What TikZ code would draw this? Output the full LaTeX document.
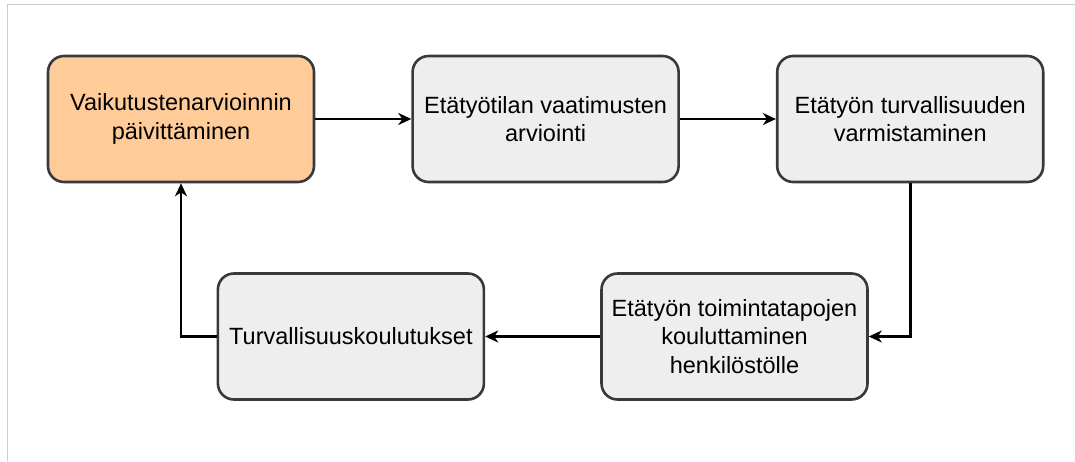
\documentclass[tikz,border=0pt]{standalone}
\usepackage{fontspec}
\setmainfont{Liberation Sans}
\usepackage{tikz}
\usetikzlibrary{arrows.meta}
\usetikzlibrary{positioning}

\definecolor{boxline}{HTML}{36393D}
\definecolor{boxgray}{HTML}{EEEEEE}
\definecolor{boxorange}{HTML}{FFCC99}
\definecolor{frame}{HTML}{CCCCCC}

\begin{document}
\begin{tikzpicture}[x=1pt,y=-1pt,->,>={Stealth[length=13pt,width=12pt,inset=4pt]},
                    line width=2.6pt,node distance=96pt,
                    step box/.style={rectangle,rounded corners=16pt,draw=boxline,
                      line width=2.6pt,fill=boxgray,minimum width=266pt,minimum height=126pt,
                      align=center,font=\fontsize{23.5}{28.5}\selectfont}]

  \useasboundingbox (0,0) rectangle (1075,461);
  \draw[-,frame,line width=1.5pt] (7.5,461) -- (7.5,4.5) -- (1075,4.5);

  \node[step box,fill=boxorange] (vai) at (181,119) {Vaikutustenarvioinnin\\päivittäminen};
  \node[step box] (eva) [right=of vai] {Etätyötilan vaatimusten\\arviointi};
  \node[step box] (etu) [right=of eva] {Etätyön turvallisuuden\\varmistaminen};
  \node[step box] (kou) at (734.5,336.5) {Etätyön toimintatapojen\\kouluttaminen\\henkilöstölle};
  \node[step box] (tur) [left=115pt of kou] {Turvallisuuskoulutukset};

  \draw (vai) -- (eva);
  \draw (eva) -- (etu);
  \draw (etu.south) |- (kou.east);
  \draw (kou) -- (tur);
  \draw (tur.west) -| (vai.south);
\end{tikzpicture}
\end{document}
